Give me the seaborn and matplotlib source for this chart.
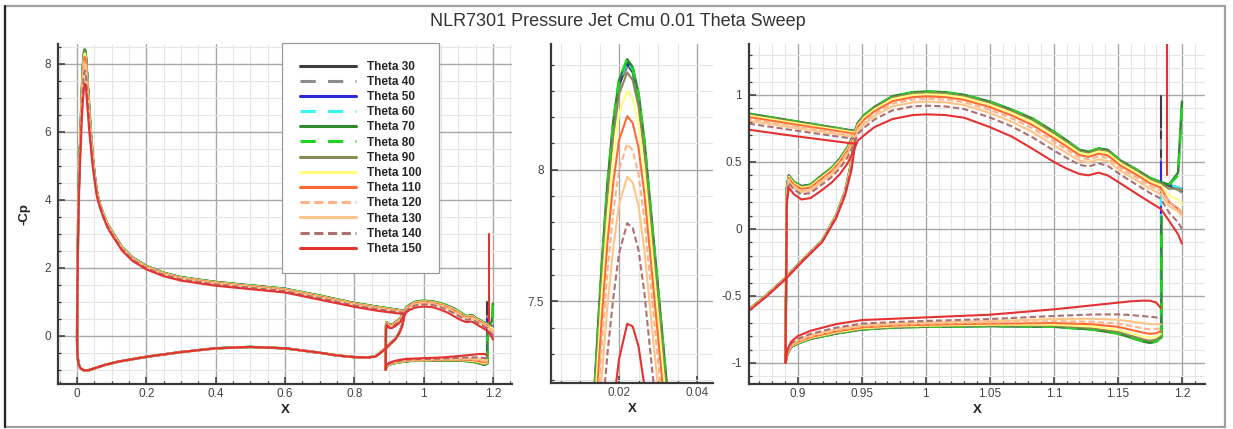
import matplotlib
matplotlib.use("Agg")
import matplotlib.pyplot as plt
import seaborn as sns
import numpy as np
from matplotlib.lines import Line2D
from matplotlib.patches import Rectangle
from matplotlib.ticker import MultipleLocator, FuncFormatter

# ---------------- data ----------------
thetas = [30, 40, 50, 60, 70, 80, 90, 100, 110, 120, 130, 140, 150]
labels = [f"Theta {t}" for t in thetas]
colors = ["#3c3c3c", "#8c8c8c", "#2b2bd6", "#3cf4f4", "#2e8b2e", "#22d422", "#8a8a55",
          "#ffff80", "#ff6a33", "#ffb288", "#ffc488", "#ad7070", "#e43232"]
styles = ["-", (0, (5, 4)), "-", (0, (5, 4)), "-", (0, (5, 4)), "-",
          "-", "-", (0, (3, 1.5)), "-", (0, (3, 1.5)), "-"]
# position of each case between the highest (Theta 70) and lowest (Theta 150) loading
blend = [0.02, 0.03, 0.01, 0.01, 0.0, 0.0, 0.05, 0.12, 0.215, 0.32, 0.445, 0.62, 1.0]

# main element, lower surface (TE -> LE)
main_lo_x = [0.945, 0.942, 0.937, 0.93, 0.919, 0.905, 0.89, 0.875, 0.862, 0.84, 0.80, 0.75, 0.70,
             0.60, 0.50, 0.40, 0.30, 0.20, 0.12, 0.08, 0.05, 0.035, 0.02, 0.01, 0.004, 0.001, 0.0]
main_lo_hi = [0.73, 0.50, 0.28, 0.10, -0.09, -0.22, -0.37, -0.50, -0.60, -0.64, -0.63, -0.58, -0.50,
              -0.37, -0.33, -0.37, -0.48, -0.62, -0.76, -0.86, -0.96, -1.01, -1.02, -0.96, -0.82, -0.55, -0.10]
main_lo_lo = [0.64, 0.44, 0.25, 0.08, -0.10, -0.23, -0.38, -0.51, -0.61, -0.64, -0.63, -0.58, -0.50,
              -0.37, -0.33, -0.37, -0.48, -0.62, -0.76, -0.86, -0.96, -1.01, -1.02, -0.96, -0.82, -0.55, -0.10]
# main element, upper surface (LE -> TE)
main_up_x = [0.0, 0.001, 0.003, 0.005, 0.008, 0.010, 0.012, 0.0138, 0.0155, 0.017,
             0.0185, 0.020, 0.0221, 0.0235, 0.025, 0.0265, 0.028, 0.030, 0.0322, 0.035,
             0.040, 0.045, 0.050, 0.057, 0.065, 0.075, 0.087, 0.10, 0.13, 0.16,
             0.20, 0.25, 0.30, 0.40, 0.50, 0.60, 0.70, 0.80, 0.862, 0.90, 0.945]
main_up_hi = [-0.10, 1.5, 3.2, 4.35, 5.45, 6.03, 6.64, 7.19, 7.62, 7.94,
              8.18, 8.34, 8.42, 8.39, 8.29, 8.11, 7.87, 7.55, 7.19, 6.74,
              5.95, 5.3, 4.8, 4.25, 3.9, 3.6, 3.3, 3.08, 2.6, 2.3,
              2.05, 1.85, 1.72, 1.58, 1.48, 1.38, 1.18, 0.96, 0.86, 0.80, 0.73]
main_up_lo = [-0.10, 1.3, 2.9, 3.9, 4.9, 5.4, 5.9, 6.4, 6.68, 6.9,
              7.1, 7.28, 7.415, 7.405, 7.33, 7.18, 6.97, 6.7, 6.4, 6.05,
              5.5, 5.0, 4.6, 4.1, 3.8, 3.5, 3.2, 2.97, 2.5, 2.2,
              1.95, 1.75, 1.62, 1.47, 1.37, 1.27, 1.06, 0.85, 0.74, 0.69, 0.635]
# flap, upper surface (LE -> jet)
flap_up_x = [0.8915, 0.893, 0.897, 0.903, 0.91, 0.919, 0.927, 0.933, 0.939, 0.944, 0.947, 0.952,
             0.96, 0.974, 0.99, 1.001, 1.015, 1.03, 1.05, 1.067, 1.083, 1.1, 1.11, 1.12, 1.127,
             1.135, 1.142, 1.152, 1.165, 1.175, 1.1835]
flap_up_hi = [0.30, 0.40, 0.35, 0.32, 0.33, 0.40, 0.46, 0.525, 0.61, 0.71, 0.79, 0.85,
              0.91, 0.99, 1.02, 1.025, 1.02, 1.0, 0.95, 0.89, 0.825, 0.725, 0.66, 0.59, 0.575,
              0.60, 0.59, 0.51, 0.44, 0.38, 0.35]
flap_up_lo = [0.18, 0.31, 0.26, 0.22, 0.23, 0.29, 0.35, 0.41, 0.49, 0.59, 0.66, 0.70,
              0.76, 0.82, 0.85, 0.855, 0.85, 0.83, 0.76, 0.69, 0.60, 0.50, 0.45, 0.41, 0.40,
              0.42, 0.40, 0.34, 0.26, 0.20, 0.15]
# flap, lower surface (LE -> jet)
flap_lo_x = [0.8905, 0.892, 0.895, 0.90, 0.91, 0.93, 0.95, 0.975, 1.0, 1.05, 1.1, 1.13, 1.15,
             1.16, 1.17, 1.175, 1.18, 1.1835]
flap_lo_hi = [-1.0, -0.93, -0.88, -0.855, -0.82, -0.78, -0.75, -0.735, -0.73, -0.725, -0.73, -0.75,
              -0.78, -0.81, -0.84, -0.85, -0.84, -0.81]
flap_lo_lo = [-1.0, -0.90, -0.84, -0.80, -0.76, -0.71, -0.68, -0.67, -0.66, -0.64, -0.60, -0.57,
              -0.55, -0.54, -0.535, -0.535, -0.55, -0.59]
# flap trailing edge region, per case
te_x = [1.19, 1.197, 1.2]
te_a = [0.32, 0.32, 0.33, 0.33, 0.33, 0.33, 0.30, 0.25, 0.20, 0.20, 0.17, 0.12, 0.06]
te_b = [0.30, 0.29, 0.31, 0.31, 0.42, 0.40, 0.30, 0.22, 0.15, 0.16, 0.13, 0.05, -0.04]
te_c = [0.28, 0.27, 0.30, 0.30, 0.95, 0.90, 0.29, 0.18, 0.10, 0.12, 0.10, 0.00, -0.11]
# jet exit lines, per case
jet_x = [1.1838] * 12 + [1.188]
jet_lo = [-0.81, -0.81, -0.81, -0.81, -0.81, -0.81, -0.80, -0.80, -0.80, -0.80, -0.80, -0.80, 0.40]
jet_hi = [0.99, 0.75, 0.50, 0.25, 0.10, 0.00, -0.80, -0.80, -0.80, -0.80, -0.80, -0.80, 3.00]

title = "NLR7301 Pressure Jet Cmu 0.01 Theta Sweep"

# ---------------- style ----------------
sns.set_theme(style="white")
plt.rcParams["font.family"] = ["Liberation Sans", "DejaVu Sans"]

W, H = 1233, 429
fig = plt.figure(figsize=(W / 100, H / 100), dpi=100)
fig.patch.set_facecolor("white")


def box(l, r, t, b):
    return [l / W, 1 - b / H, (r - l) / W, (b - t) / H]


ax1 = fig.add_axes(box(58, 512, 44, 384))
ax2 = fig.add_axes(box(551, 713, 44, 383))
ax3 = fig.add_axes(box(749, 1205, 44, 384))


def mix(a, b, f):
    return [ai + f * (bi - ai) for ai, bi in zip(a, b)]


def draw(ax):
    for k in range(len(thetas)):
        f = blend[k]
        c, ls = colors[k], styles[k]
        lw = 1.8 if thetas[k] in (70, 80) else 1.5
        kw = dict(ax=ax, color=c, linestyle=ls, lw=lw, sort=False, estimator=None, legend=False)
        mx = main_lo_x + main_up_x
        my = mix(main_lo_hi, main_lo_lo, f) + mix(main_up_hi, main_up_lo, f)
        sns.lineplot(x=mx, y=my, **kw)
        fu = mix(flap_up_hi, flap_up_lo, f)
        fl = mix(flap_lo_hi, flap_lo_lo, f)
        fx = te_x[::-1] + flap_up_x[::-1] + flap_lo_x
        fy = [te_c[k], te_b[k], te_a[k]] + fu[::-1] + fl
        sns.lineplot(x=fx, y=fy, **kw)
        if jet_hi[k] != jet_lo[k]:
            sns.lineplot(x=[jet_x[k], jet_x[k]], y=[jet_lo[k], jet_hi[k]], **kw)


fmt = FuncFormatter(lambda v, p: f"{v:g}")
for ax, xl, yl, xmaj, xmin, ymaj, ymin in [
    (ax1, (-0.055, 1.255), (-1.42, 8.58), 0.2, 0.05, 2, 0.5),
    (ax2, (0.00256, 0.0441), (7.19, 8.478), 0.02, 0.005, 0.5, 0.1),
    (ax3, (0.862, 1.218), (-1.157, 1.38), 0.05, 0.01, 0.5, 0.1),
]:
    draw(ax)
    ax.set_xlim(*xl)
    ax.set_ylim(*yl)
    ax.xaxis.set_major_locator(MultipleLocator(xmaj))
    ax.xaxis.set_minor_locator(MultipleLocator(xmin))
    ax.yaxis.set_major_locator(MultipleLocator(ymaj))
    ax.yaxis.set_minor_locator(MultipleLocator(ymin))
    ax.xaxis.set_major_formatter(fmt)
    ax.yaxis.set_major_formatter(fmt)
    ax.grid(True, which="major", color="#a8a8a8", lw=1.0)
    ax.grid(True, which="minor", color="#e6e6e6", lw=0.8)
    ax.set_axisbelow(True)
    for s in ("top", "right"):
        ax.spines[s].set_visible(False)
    for s in ("left", "bottom"):
        ax.spines[s].set_color("#3a3a3a")
        ax.spines[s].set_linewidth(1.6)
    ax.tick_params(which="both", direction="in", colors="#3a3a3a", labelcolor="#444444",
                   labelsize=8.5, bottom=True, left=True, top=False, right=False)
    ax.tick_params(which="major", length=5, width=1.1)
    ax.tick_params(which="minor", length=2.5, width=0.9)
    ax.tick_params(axis="x", pad=3)
    ax.tick_params(axis="y", pad=5)
    ax.set_xlabel("X", fontsize=9.5, fontweight="bold", labelpad=3, color="#222222")
    ax.set_ylabel("")
    ax.set_facecolor("white")

ax1.set_ylabel("-Cp", fontsize=9.5, fontweight="bold", color="#222222", labelpad=10)

handles = [Line2D([0], [0], color=c, linestyle=ls, lw=2.2) for c, ls in zip(colors, styles)]
leg = ax1.legend(handles, labels, loc="upper left", bbox_to_anchor=((282 - 58) / 454, 1.003),
                 borderaxespad=0, frameon=True, fancybox=False, framealpha=1,
                 prop={"size": 8.5, "weight": "bold"}, handlelength=4.8, handletextpad=0.9,
                 labelspacing=0.27, borderpad=1.5)
leg.get_frame().set_edgecolor("#9a9a9a")
leg.get_frame().set_linewidth(0.9)

fig.text(618 / W, 1 - 21 / H, title, ha="center", va="center", fontsize=13, color="#333333")

fig.add_artist(Rectangle((5 / W, 1 - 427 / H), 1220 / W, 421 / H, transform=fig.transFigure,
                         fill=False, ec="#a0a0a0", lw=1.6))
fig.add_artist(Line2D([5 / W, 5 / W], [1 - 427 / H, 1 - 6 / H], transform=fig.transFigure,
                      color="#222222", lw=1.6))

fig.savefig("out.png", dpi=100)
